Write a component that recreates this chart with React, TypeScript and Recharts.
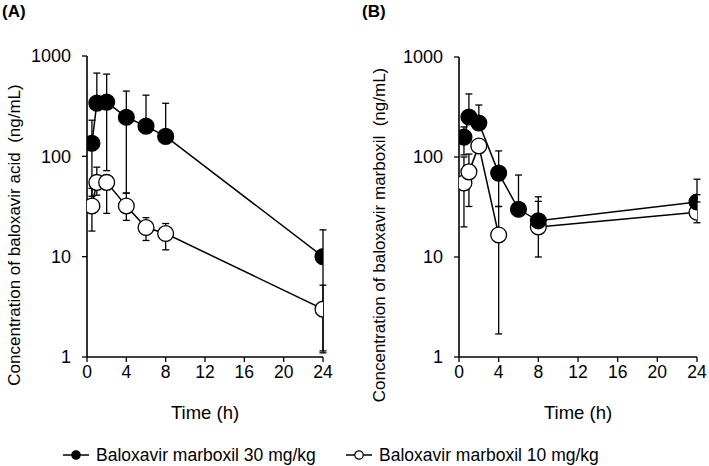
import React from 'react';
import { LineChart, Line, XAxis, YAxis, ErrorBar } from 'recharts';

const FONT = '"Liberation Sans", Arial, sans-serif';

const times = [0.5, 1, 2, 4, 6, 8, 24];
const xTicks = [0, 4, 8, 12, 16, 20, 24];
const yTicks = [1, 10, 100, 1000];

const seriesNames = ['Baloxavir marboxil 30 mg/kg', 'Baloxavir marboxil 10 mg/kg'];

// Panel A: baloxavir acid
const acid30 = [135, 339, 347, 245, 200, 158, 10];
const acid30Lo = [40, 339, 72, 43, 200, 158, 1.15];
const acid30Hi = [229, 676, 660, 447, 407, 338, 18.5];
const acid10 = [32, 55, 55, 32, 19.5, 17, 3.0];
const acid10Lo = [18, 41, 27, 23, 14.5, 11.7, 1.1];
const acid10Hi = [48, 78, 65, 43, 24.5, 21.4, 5.2];

// Panel B: baloxavir marboxil
const marb30 = [158, 251, 219, 69, 30, 23, 35.5];
const marb30Lo = [105, 251, 219, 32, 30, 23, 35.5];
const marb30Hi = [200, 427, 331, 115, 66, 40, 60];
const marb10 = [55, 71, 129, 16.6, null, 20, 28];
const marb10Lo = [20, 32, 110, 1.7, null, 10, 22];
const marb10Hi = [100, 107, 150, 32, null, 36, 42];

type Num = number | null;

function buildRows(hv: Num[], hl: Num[], hh: Num[], lv: Num[], ll: Num[], lh: Num[]) {
  return times.map((t, i) => ({
    t,
    high: hv[i],
    highErr: hv[i] == null ? null : [(hv[i] as number) - (hl[i] as number), (hh[i] as number) - (hv[i] as number)],
    low: lv[i],
    lowErr: lv[i] == null ? null : [(lv[i] as number) - (ll[i] as number), (lh[i] as number) - (lv[i] as number)],
  }));
}

const dataA = buildRows(acid30, acid30Lo, acid30Hi, acid10, acid10Lo, acid10Hi);
const dataB = buildRows(marb30, marb30Lo, marb30Hi, marb10, marb10Lo, marb10Hi);

const FilledDot = (p: any) =>
  p.cx == null || p.cy == null ? null : (
    <circle key={p.key} cx={p.cx} cy={p.cy} r={7.9} fill="#000" stroke="#000" strokeWidth={1.3} />
  );
const OpenDot = (p: any) =>
  p.cx == null || p.cy == null ? null : (
    <circle key={p.key} cx={p.cx} cy={p.cy} r={7.9} fill="#fff" stroke="#000" strokeWidth={1.3} />
  );

interface PanelProps {
  left: number;
  width: number;
  yAxisWidth: number;
  top: number;
  right: number;
  data: any[];
  title: string;
  yLabel: string;
  yLabelX: number;
  openFirst: boolean;
}

function Panel(props: PanelProps) {
  const { left, width, yAxisWidth, top, right, data, title, yLabel, yLabelX, openFirst } = props;
  const height = 466;
  const plotLeft = yAxisWidth;
  const plotRight = width - right;
  const xCenter = (plotLeft + plotRight) / 2;

  const filled = (
    <Line
      key="filled"
      dataKey="high"
      type="linear"
      stroke="#000"
      strokeWidth={1.5}
      dot={FilledDot}
      activeDot={false}
      isAnimationActive={false}
      connectNulls={false}
    >
      <ErrorBar dataKey="highErr" direction="y" width={3.5} stroke="#000" strokeWidth={1.3} />
    </Line>
  );
  const open = (
    <Line
      key="open"
      dataKey="low"
      type="linear"
      stroke="#000"
      strokeWidth={1.5}
      dot={OpenDot}
      activeDot={false}
      isAnimationActive={false}
      connectNulls={false}
    >
      <ErrorBar dataKey="lowErr" direction="y" width={3.5} stroke="#000" strokeWidth={1.3} />
    </Line>
  );

  return (
    <div style={{ position: 'absolute', left, top: 0, width, height }}>
      <LineChart width={width} height={height} data={data} margin={{ top, right, left: 0, bottom: 0 }}>
        <XAxis
          dataKey="t"
          type="number"
          domain={[0, 24]}
          ticks={xTicks}
          interval={0}
          allowDataOverflow
          height={109}
          tickSize={5}
          tickMargin={4}
          axisLine={{ stroke: '#000', strokeWidth: 1.6 }}
          tickLine={{ stroke: '#000', strokeWidth: 1.3 }}
          tick={{ fill: '#000', fontSize: 17.5, fontFamily: FONT }}
        />
        <YAxis
          type="number"
          scale="log"
          domain={[1, 1000]}
          ticks={yTicks}
          interval={0}
          allowDataOverflow
          width={yAxisWidth}
          tickSize={5}
          tickMargin={11}
          axisLine={{ stroke: '#000', strokeWidth: 1.6 }}
          tickLine={{ stroke: '#000', strokeWidth: 1.3 }}
          tick={{ fill: '#000', fontSize: 18, fontFamily: FONT }}
        />
        {openFirst ? [open, filled] : [filled, open]}
      </LineChart>
      <svg
        width={width}
        height={height}
        style={{ position: 'absolute', left: 0, top: 0, pointerEvents: 'none', overflow: 'visible' }}
      >
        <text x={2} y={17} fill="#000" fontSize={17} fontWeight="bold" fontFamily={FONT}>
          {title}
        </text>
        <text x={xCenter} y={419} textAnchor="middle" fill="#000" fontSize={18.5} fontWeight="normal" fontFamily={FONT}>
          Time (h)
        </text>
        <text
          x={yLabelX}
          y={235}
          transform={`rotate(-90 ${yLabelX} 235)`}
          textAnchor="middle"
          dominantBaseline="central"
          fill="#000"
          fontSize={17}
          fontWeight="normal"
          fontFamily={FONT}
          style={{ whiteSpace: 'pre' }}
        >
          {yLabel}
        </text>
      </svg>
    </div>
  );
}

function LegendItem({ x, filled, label }: { x: number; filled: boolean; label: string }) {
  return (
    <div style={{ position: 'absolute', left: x, top: 443, height: 24, display: 'flex', alignItems: 'center' }}>
      <svg width={28} height={24} style={{ display: 'block' }}>
        <line x1={1} y1={12} x2={27} y2={12} stroke="#000" strokeWidth={1.5} />
        <circle cx={14} cy={12} r={4.2} fill={filled ? '#000' : '#fff'} stroke="#000" strokeWidth={1.2} />
      </svg>
      <span style={{ marginLeft: 6, fontFamily: FONT, fontSize: 17.5, color: '#000', whiteSpace: 'nowrap' }}>
        {label}
      </span>
    </div>
  );
}

export default function App() {
  return (
    <div style={{ position: 'absolute', left: 0, top: 0, width: 709, height: 466, background: '#fff', overflow: 'hidden' }}>
      <Panel
        left={0}
        width={360}
        yAxisWidth={87}
        top={56}
        right={37}
        data={dataA}
        title="(A)"
        yLabel="Concentration of baloxavir acid  (ng/mL)"
        yLabelX={14}
        openFirst={false}
      />
      <Panel
        left={360}
        width={349}
        yAxisWidth={99}
        top={57}
        right={12}
        data={dataB}
        title="(B)"
        yLabel="Concentration of baloxavir marboxil  (ng/mL)"
        yLabelX={19}
        openFirst={true}
      />
      <LegendItem x={62} filled={true} label={seriesNames[0]} />
      <LegendItem x={345} filled={false} label={seriesNames[1]} />
    </div>
  );
}
